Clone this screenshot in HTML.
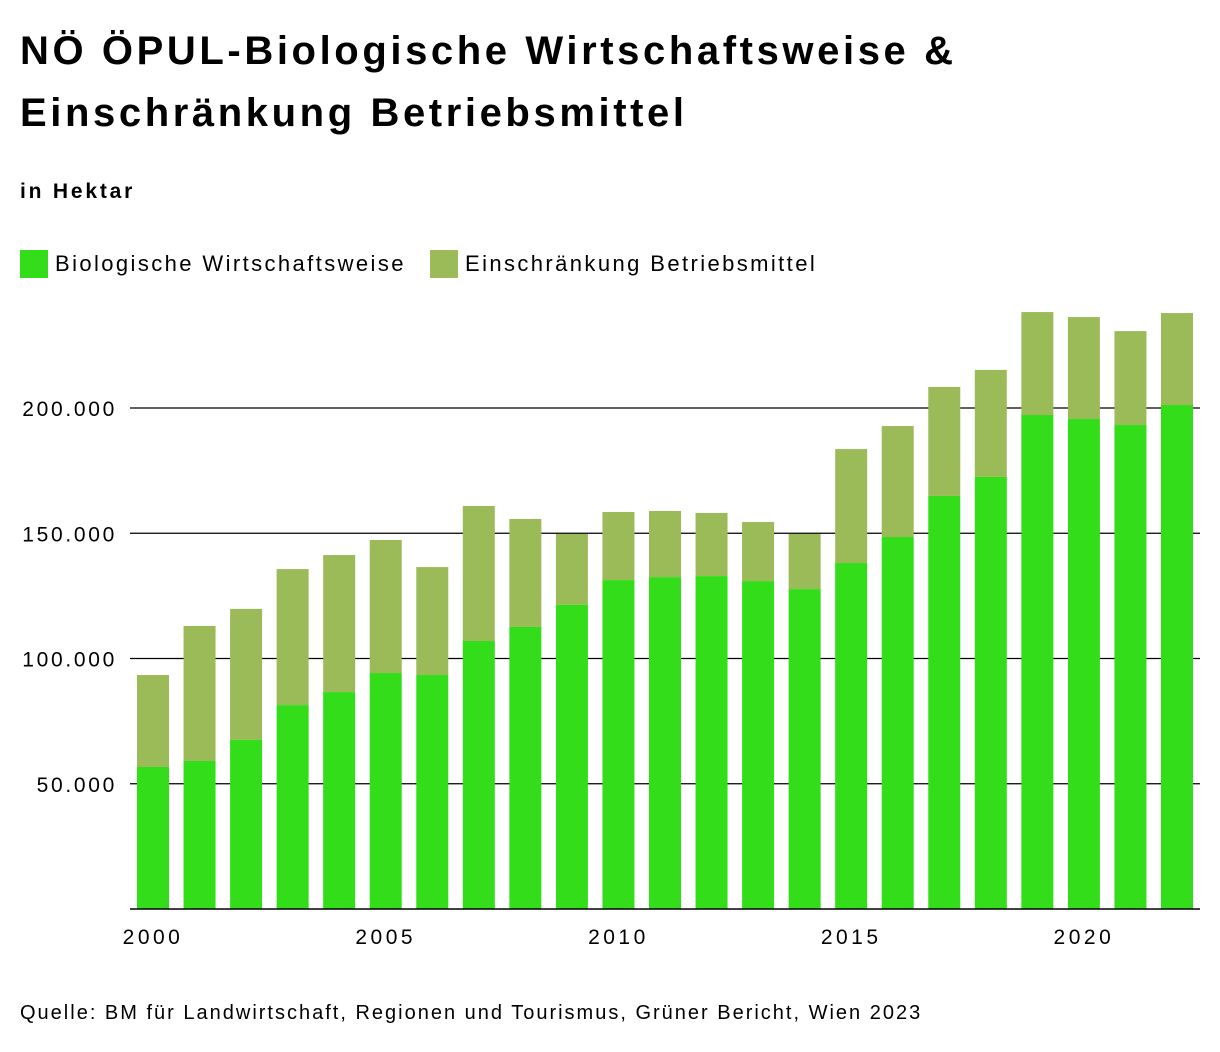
<!DOCTYPE html>
<html><head><meta charset="utf-8"><style>
body{margin:0;background:#fff;width:1220px;height:1052px;overflow:hidden;font-family:"Liberation Sans",sans-serif;color:#000}
.t{position:absolute;left:20px;margin:0;font-weight:bold;font-size:40px;line-height:62px;top:20px;letter-spacing:3.6px}
.s{position:absolute;left:20px;top:180px;font-weight:bold;font-size:21px;letter-spacing:2.8px}
.lg{position:absolute;top:250px;font-size:22px;display:flex;align-items:center;letter-spacing:2.4px}
.sw{width:28px;height:28px;margin-right:7px}
.src{position:absolute;left:20px;top:1002px;font-size:20px;letter-spacing:2px}
</style></head><body>
<h1 class="t">NÖ ÖPUL-Biologische Wirtschaftsweise &amp;<br>Einschränkung Betriebsmittel</h1>
<div class="s">in Hektar</div>
<div class="lg" style="left:20px"><div class="sw" style="background:#33dd1a"></div>Biologische Wirtschaftsweise</div>
<div class="lg" style="left:430px"><div class="sw" style="background:#9bbb59"></div>Einschränkung Betriebsmittel</div>
<svg id="c" width="1220" height="1052" style="position:absolute;left:0;top:0"></svg>
<div class="src">Quelle: BM für Landwirtschaft, Regionen und Tourismus, Grüner Bericht, Wien 2023</div>
<script>
const years=[2000,2001,2002,2003,2004,2005,2006,2007,2008,2009,2010,2011,2012,2013,2014,2015,2016,2017,2018,2019,2020,2021,2022];
const bio=[56700,59100,67500,81400,86600,94200,93400,107000,112600,121400,131300,132500,132900,130900,127700,138100,148500,164900,172500,197200,195600,193200,201200];
const totals=[93400,113000,119800,135700,141300,147300,136500,160900,155700,149700,158500,158900,158100,154500,149700,183600,192800,208400,215200,238300,236300,230700,237900];
const yTicks=[50000,100000,150000,200000];
const yTickLabels=["50.000","100.000","150.000","200.000"];
const xTickYears=[2000,2005,2010,2015,2020];
const svg=document.getElementById('c');const NS='http://www.w3.org/2000/svg';
const y=v=>909-v*501/200000;
const x=yr=>153+(yr-2000)*46.545;
function mk(t,a){const e=document.createElementNS(NS,t);for(const k in a)e.setAttribute(k,a[k]);svg.appendChild(e);return e;}
yTicks.forEach((v,i)=>{
 const l=mk('line',{x1:130,x2:1200,y1:y(v),y2:y(v),stroke:'#000','stroke-width':1.3});
 
 
 const t=mk('text',{x:117,y:y(v)+8,'text-anchor':'end','font-size':21,'font-family':'Liberation Sans','letter-spacing':2.7});
 t.textContent=yTickLabels[i];
 
 
});
years.forEach((yr,i)=>{
 const cx=x(yr);
 const r2=mk('rect',{x:cx-16,width:32,y:y(totals[i]),height:y(bio[i])-y(totals[i]),fill:'#9bbb59'});
 
 
 const r1=mk('rect',{x:cx-16,width:32,y:y(bio[i]),height:909-y(bio[i]),fill:'#33dd1a'});
 
 
});
const ax=mk('line',{x1:130,x2:1200,y1:909,y2:909,stroke:'#000','stroke-width':1.5});


xTickYears.forEach(yr=>{
 const t=mk('text',{x:x(yr),y:944,'text-anchor':'middle','font-size':21,'font-family':'Liberation Sans','letter-spacing':3.5});
 t.textContent=yr;
 
 
});
</script>
</body></html>
